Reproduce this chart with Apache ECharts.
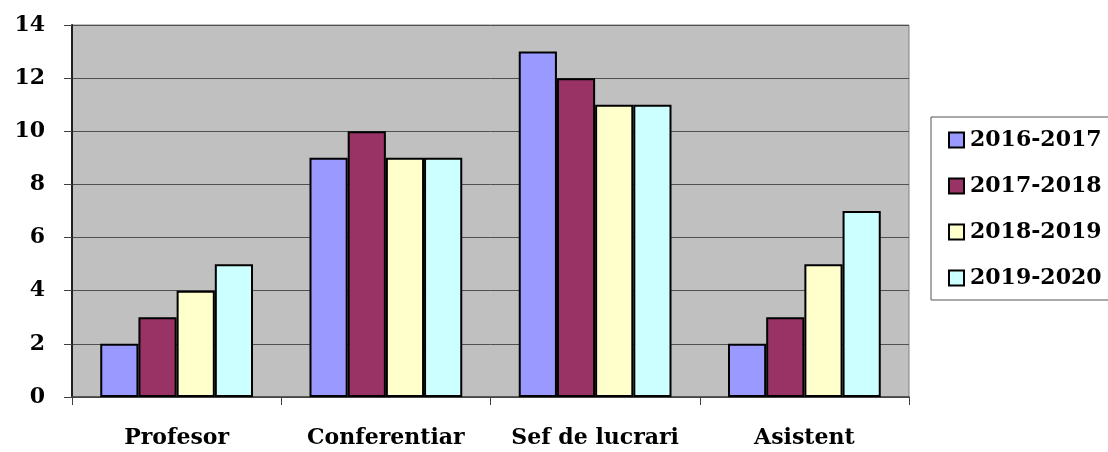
<!DOCTYPE html>
<html>
<head>
<meta charset="utf-8">
<script src="https://cdn.jsdelivr.net/npm/echarts@6/dist/echarts.min.js"></script>
<style>html,body{margin:0;padding:0;background:#fff}#c{width:1108px;height:452px}</style>
</head>
<body>
<div id="c"></div>
<script>
const categories = ['Profesor', 'Conferentiar', 'Sef de lucrari', 'Asistent'];
const seriesNames = ['2016-2017', '2017-2018', '2018-2019', '2019-2020'];
const values2016 = [2, 9, 13, 2];
const values2017 = [3, 10, 12, 3];
const values2018 = [4, 9, 11, 5];
const values2019 = [5, 9, 11, 7];
const colors = ['#9999FF', '#993366', '#FFFFCC', '#CCFFFF'];
const allValues = [values2016, values2017, values2018, values2019];

const font = 'DejaVu Serif';
const chart = echarts.init(document.getElementById('c'));
chart.setOption({
  animation: false,
  textStyle: { fontFamily: font },
  grid: {
    left: 72, right: 199, top: 25, bottom: 55,
    show: true, backgroundColor: '#C0C0C0', borderColor: '#808080', borderWidth: 1
  },
  legend: {
    orient: 'vertical',
    left: 931, top: 117,
    padding: [12, 10, 11, 17],
    itemGap: 24,
    itemWidth: 15, itemHeight: 15,
    icon: 'rect',
    backgroundColor: '#fff',
    borderColor: '#555', borderWidth: 1,
    itemStyle: { borderColor: '#000', borderWidth: 2 },
    textStyle: { fontFamily: font, fontWeight: 'bold', fontSize: 22, color: '#000', lineHeight: 22, padding: [0, 0, 0, 1] },
    data: seriesNames
  },
  xAxis: {
    type: 'category',
    data: categories,
    axisLine: { lineStyle: { color: '#404040', width: 1.5 } },
    axisTick: { show: true, interval: 0, length: 8, lineStyle: { color: '#404040' } },
    axisLabel: { interval: 0, fontFamily: font, fontWeight: 'bold', fontSize: 22, color: '#000', margin: 30 }
  },
  yAxis: {
    type: 'value',
    min: 0, max: 14, interval: 2,
    axisLine: { show: true, lineStyle: { color: '#202020', width: 2 } },
    axisTick: { show: true, length: 8, lineStyle: { color: '#404040' } },
    splitLine: { lineStyle: { color: '#505050', width: 1 } },
    axisLabel: { fontFamily: font, fontWeight: 'bold', fontSize: 22, color: '#000', margin: 27 }
  },
  series: seriesNames.map((n, i) => ({
    name: n,
    type: 'bar',
    data: allValues[i],
    barGap: '0%',
    barCategoryGap: '27%',
    itemStyle: { color: colors[i], borderColor: '#000', borderWidth: 2 }
  }))
});
</script>
</body>
</html>
